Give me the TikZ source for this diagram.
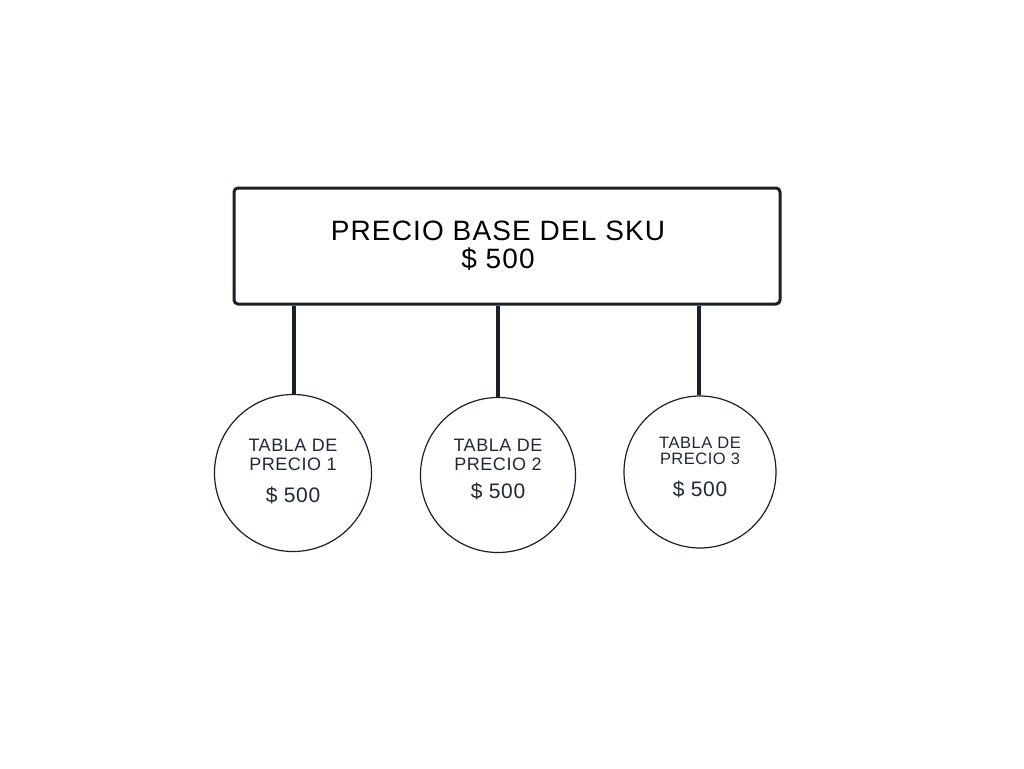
\documentclass[tikz,border=0pt]{standalone}
\usepackage{fontspec}
\setmainfont{Liberation Sans}
\definecolor{ink}{HTML}{18202C}
\definecolor{txt}{HTML}{1E2838}
\begin{document}
\begin{tikzpicture}[x=1pt,y=-1pt,
  base/.style={draw=ink,line width=3pt,rounded corners=4pt,minimum width=546pt,minimum height=116pt,inner sep=0pt},
  tabla/.style={draw=ink,line width=1.2pt,circle,inner sep=0pt},
  lbl/.style={align=center,text=txt,inner sep=0pt},
  link/.style={draw=ink,line width=4pt}]
\useasboundingbox (0,0) rectangle (1024,768);
\node[base] (b) at (507,246) {};
\node[lbl,text=black,font=\fontsize{28}{29}\selectfont] (bt) at (498,246) {\addfontfeature{LetterSpace=4}PRECIO BASE DEL SKU\\[-1pt]\addfontfeature{LetterSpace=4}\$ 500};
\node[tabla,minimum size=157pt] (c1) at (293,473) {};
\node[tabla,minimum size=155pt] (c2) at (498,475) {};
\node[tabla,minimum size=152pt] (c3) at (700,472) {};
\node[lbl,font=\fontsize{18}{19.5}\selectfont] (t1) at (293,455) {\addfontfeature{LetterSpace=3}TABLA DE\\\addfontfeature{LetterSpace=3}PRECIO 1};
\node[lbl,font=\fontsize{21}{22}\selectfont] (p1) at (293,495) {\addfontfeature{LetterSpace=3}\$ 500};
\node[lbl,font=\fontsize{18}{19.5}\selectfont] (t2) at (498,455) {\addfontfeature{LetterSpace=3}TABLA DE\\\addfontfeature{LetterSpace=3}PRECIO 2};
\node[lbl,font=\fontsize{21}{22}\selectfont] (p2) at (498,491) {\addfontfeature{LetterSpace=3}\$ 500};
\node[lbl,font=\fontsize{16.5}{16.5}\selectfont] (t3) at (700,451) {\addfontfeature{LetterSpace=3}TABLA DE\\\addfontfeature{LetterSpace=3}PRECIO 3};
\node[lbl,font=\fontsize{21}{22}\selectfont] (p3) at (700,489) {\addfontfeature{LetterSpace=3}\$ 500};
\draw[link] (b.south -| c1.north) ++(1,0) -- ([xshift=1pt]c1.north);
\draw[link] (b.south -| c2.north) -- (c2.north);
\draw[link] (b.south -| c3.north) ++(-1,0) -- ([xshift=-1pt]c3.north);
\end{tikzpicture}
\end{document}
